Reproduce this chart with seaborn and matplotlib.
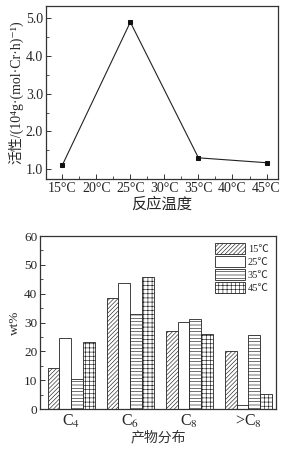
import matplotlib
matplotlib.use("Agg")
import matplotlib.pyplot as plt
import seaborn as sns
import pandas as pd
from matplotlib.patches import Patch
from matplotlib.ticker import MultipleLocator

# ---- data ----
temps = [15, 25, 35, 45]
activity = [1.10, 4.90, 1.30, 1.17]
temp_ticks = [15, 20, 25, 30, 35, 40, 45]

products = ["C4", "C6", "C8", ">C8"]
product_labels = [r"C$_4$", r"C$_6$", r"C$_8$", r">C$_8$"]
series_names = ["15℃", "25℃", "35℃", "45℃"]
wt_15 = [14.2, 38.6, 27.0, 20.1]
wt_25 = [24.7, 43.8, 30.2, 1.5]
wt_35 = [10.5, 33.0, 31.2, 25.7]
wt_45 = [23.2, 45.9, 26.0, 5.2]

sns.set_theme(style="ticks")
plt.rcParams['font.family'] = ['Liberation Serif', 'Noto Sans CJK SC', 'DejaVu Sans']
plt.rcParams['mathtext.fontset'] = 'stix'
plt.rcParams['hatch.linewidth'] = 0.45
plt.rcParams['axes.edgecolor'] = '#333333'
plt.rcParams['axes.linewidth'] = 0.9

fig = plt.figure(figsize=(2.94, 4.53), dpi=100)
cjk = ['Noto Sans CJK SC', 'DejaVu Sans']
mixed = ['Liberation Serif', 'Noto Sans CJK SC', 'DejaVu Sans']

# ---- top: activity vs temperature ----
ax1 = fig.add_axes([0.156, 0.605, 0.79, 0.382])
df1 = pd.DataFrame({"T": temps, "A": activity})
sns.lineplot(data=df1, x="T", y="A", ax=ax1, color="#222222", linewidth=0.8,
             marker="s", markersize=3.5, markeredgecolor="#111111",
             markerfacecolor="#111111")
ax1.set_xlim(12.6, 46.7)
ax1.set_ylim(0.74, 5.33)
ax1.set_xticks(temp_ticks)
ax1.set_xticklabels([f"{t}°C" for t in temp_ticks], fontsize=10)
ax1.xaxis.set_minor_locator(MultipleLocator(2.5))
ax1.set_yticks([1, 2, 3, 4, 5])
ax1.set_yticklabels([f"{v:.1f}" for v in [1, 2, 3, 4, 5]], fontsize=10)
ax1.yaxis.set_minor_locator(MultipleLocator(0.5))
ax1.tick_params(which="both", direction="in", color="#333333")
ax1.tick_params(which="major", length=3.5, width=0.7, pad=2)
ax1.tick_params(which="minor", length=2, width=0.6)
ax1.set_xlabel("反应温度", fontsize=11, family=cjk, labelpad=1)
ax1.set_ylabel("活性/(10⁴g·(mol·Cr·h)⁻¹)", fontsize=10,
               family=mixed, labelpad=2)
for s in ax1.spines.values():
    s.set_visible(True)

# ---- bottom: product distribution ----
ax2 = fig.add_axes([0.136, 0.097, 0.803, 0.382])
rows = []
for name, vals in zip(series_names, [wt_15, wt_25, wt_35, wt_45]):
    for p, v in zip(products, vals):
        rows.append({"product": p, "series": name, "wt": v})
df2 = pd.DataFrame(rows)
sns.barplot(data=df2, x="product", y="wt", hue="series", ax=ax2,
            order=products, hue_order=series_names, width=0.8,
            palette=["white"] * 4, edgecolor="#222222",
            linewidth=0.6, saturation=1, legend=False, errorbar=None)
hatches = ["////////", "", "-----", "++++"]
for cont, h in zip(ax2.containers, hatches):
    for bar in cont:
        bar.set_hatch(h)
        bar.set_edgecolor("#222222")
ax2.set_xlim(-0.53, 3.47)
ax2.set_ylim(0, 60)
ax2.set_yticks(range(0, 61, 10))
ax2.yaxis.set_minor_locator(MultipleLocator(5))
ax2.set_yticklabels([str(v) for v in range(0, 61, 10)], fontsize=9.5)
ax2.set_xticks(range(len(products)))
ax2.set_xticklabels(product_labels, fontsize=11.5)
ax2.tick_params(axis="x", length=0, pad=3)
ax2.tick_params(axis="y", which="both", direction="in", color="#333333")
ax2.tick_params(axis="y", which="major", length=3.5, width=0.7, pad=2)
ax2.tick_params(axis="y", which="minor", length=2, width=0.6)
ax2.set_xlabel("产物分布", fontsize=10, family=cjk, labelpad=0, color="#333333")
ax2.set_ylabel("wt%", fontsize=9.5, labelpad=2)
for s in ax2.spines.values():
    s.set_visible(True)

handles = [Patch(facecolor="white", edgecolor="#222222", hatch=h, linewidth=0.6)
           for h in hatches]
leg = ax2.legend(handles, series_names, loc="upper right", frameon=False,
                 handlelength=2.9, handleheight=1.2,
                 handletextpad=0.3, labelspacing=0.2,
                 borderaxespad=0.3, prop={'family': mixed, 'size': 7.5})

fig.savefig("out.png", dpi=100)
